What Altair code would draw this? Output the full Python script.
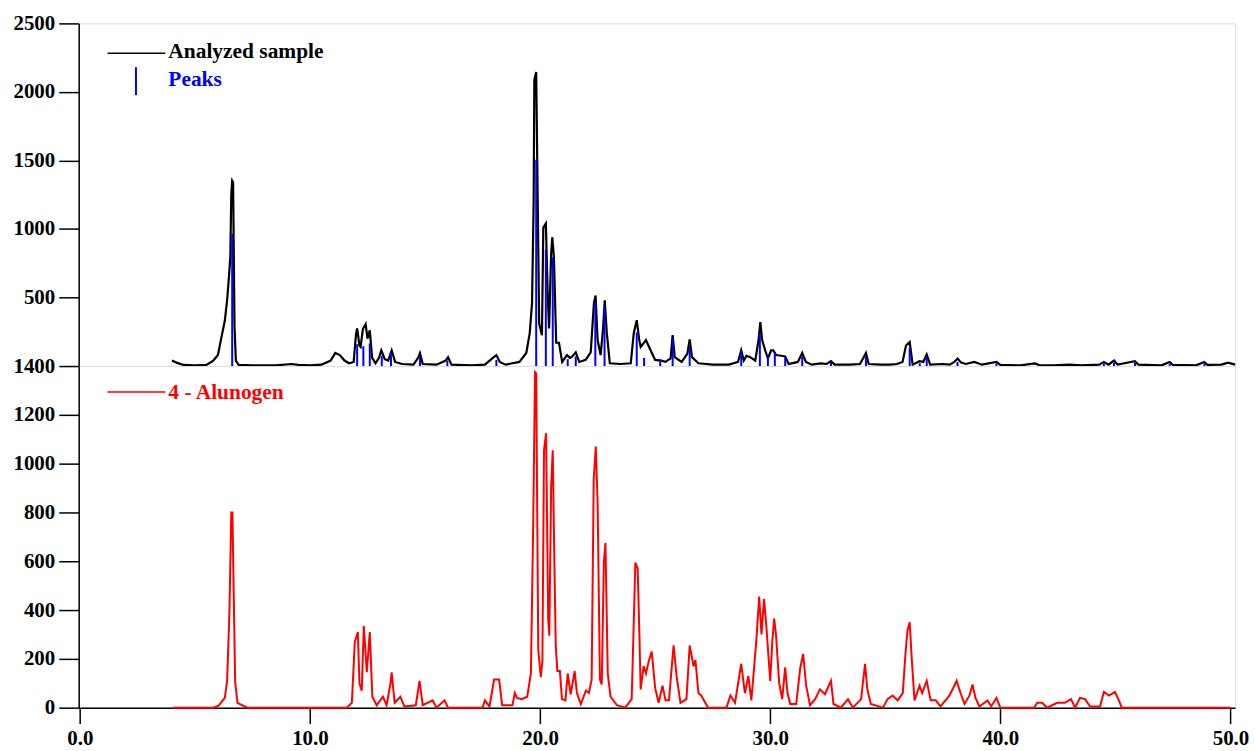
import altair as alt
import pandas as pd

# ---------------- data ----------------
sample_x = [4.0, 4.2, 4.5, 5.0, 5.5, 5.8, 6.0, 6.19, 6.3, 6.4, 6.48, 6.54, 6.58, 6.62, 6.66, 6.72, 6.78, 6.9,
            7.5, 8.5, 9.2, 9.5, 10.0, 10.5, 10.9, 11.1, 11.3, 11.5, 11.7, 11.9, 12.0, 12.05, 12.15, 12.2, 12.3,
            12.42, 12.5, 12.6, 12.7, 12.85, 13.0, 13.1, 13.25, 13.4, 13.55, 13.7, 14.0, 14.5, 14.7, 14.78, 14.9,
            15.5, 15.9, 16.0, 16.15, 17.0, 17.6, 17.95, 18.1, 18.25, 18.5, 18.8, 19.1, 19.4, 19.55, 19.65, 19.72,
            19.75, 19.83, 19.9, 19.96, 20.08, 20.14, 20.25, 20.33, 20.39, 20.48, 20.53, 20.6, 20.7, 20.82, 20.96,
            21.17, 21.3, 21.4, 21.55, 21.7, 21.98, 22.2, 22.34, 22.41, 22.5, 22.63, 22.73, 22.81, 22.9, 23.03,
            23.5, 23.94, 24.07, 24.2, 24.3, 24.37, 24.6, 24.8, 25.0, 25.24, 25.45, 25.67, 25.76, 25.85, 26.15,
            26.4, 26.5, 26.6, 26.88, 27.5, 28.2, 28.6, 28.74, 28.85, 28.97, 29.13, 29.35, 29.5, 29.57, 29.65,
            29.78, 29.9, 30.04, 30.13, 30.26, 30.48, 30.65, 30.8, 31.2, 31.39, 31.55, 31.8, 32.2, 32.45, 32.64,
            32.8, 33.46, 33.9, 34.05, 34.16, 34.28, 34.8, 35.2, 35.5, 35.75, 35.9, 36.06, 36.19, 36.49, 36.65,
            36.8, 36.95, 37.49, 37.8, 38.0, 38.14, 38.3, 38.5, 38.87, 39.2, 39.83, 40.0, 40.87, 41.5, 41.7, 42.3,
            43.0, 43.5, 44.3, 44.5, 44.7, 44.94, 45.1, 45.85, 46.0, 47.0, 47.36, 47.5, 48.5, 48.87, 49.0, 49.6,
            49.9, 50.2]
sample_y = [40, 25, 8, 5, 8, 40, 80, 240, 330, 480, 650, 800, 1250, 1352, 1340, 300, 40, 8,
            5, 5, 15, 8, 5, 10, 40, 95, 80, 40, 20, 30, 230, 275, 150, 140, 270,
            305, 200, 260, 60, 20, 60, 115, 50, 40, 115, 30, 15, 10, 60, 95, 15,
            10, 40, 65, 10, 5, 10, 60, 80, 30, 10, 20, 30, 95, 240, 460, 1200,
            2090, 2145, 1155, 310, 225, 1010, 1040, 530, 275, 820, 940, 795, 170, 170, 30,
            80, 60, 70, 100, 30, 45, 100, 460, 515, 190, 80, 260, 480, 240, 20,
            15, 20, 240, 335, 200, 140, 190, 115, 45, 40, 30, 55, 225, 65, 30,
            90, 195, 65, 20, 10, 10, 30, 115, 40, 75, 65, 40, 200, 320, 190,
            115, 55, 115, 115, 80, 75, 70, 15, 30, 95, 30, 10, 20, 15, 35,
            10, 10, 15, 60, 95, 15, 10, 10, 15, 30, 150, 175, 10, 35, 30,
            85, 10, 15, 10, 30, 55, 25, 15, 30, 10, 30, 8, 5, 20, 5, 5,
            10, 5, 10, 30, 10, 40, 10, 35, 10, 5, 30, 8, 5, 30, 8, 10,
            25, 10]

peak_x = [6.62, 12.05, 12.32, 12.6, 13.12, 13.52, 14.78, 15.97, 18.1, 19.83, 20.25, 20.55, 21.2, 21.55,
          22.4, 22.8, 24.2, 24.52, 25.22, 25.76, 26.5, 28.74, 29.55, 29.9, 30.2, 30.65, 31.39, 32.64,
          34.16, 36.06, 36.5, 36.8, 38.14, 39.83, 44.5, 44.94, 45.85, 47.36, 48.87]
peak_h = [966, 160, 145, 165, 75, 95, 70, 40, 45, 1505, 850, 795, 50, 70,
          465, 430, 245, 60, 50, 205, 130, 110, 240, 80, 95, 60, 70, 25,
          70, 130, 20, 65, 30, 20, 20, 25, 25, 15, 20]

ref_x = [4.03, 5.8, 6.03, 6.3, 6.4, 6.5, 6.58, 6.63, 6.7, 6.75, 6.85, 7.27, 11.6, 11.82, 11.95, 12.08, 12.15,
         12.25, 12.34, 12.47, 12.6, 12.71, 12.9, 13.17, 13.33, 13.5, 13.55, 13.68, 13.93, 14.1, 14.6, 14.76,
         14.9, 15.33, 15.5, 15.85, 16.0, 17.5, 17.6, 17.8, 18.0, 18.22, 18.35, 18.8, 18.9, 19.0, 19.2, 19.44,
         19.6, 19.7, 19.78, 19.83, 19.92, 20.03, 20.1, 20.17, 20.26, 20.35, 20.4, 20.48, 20.55, 20.61, 20.68,
         20.75, 20.86, 20.95, 21.1, 21.2, 21.33, 21.5, 21.6, 21.77, 21.99, 22.12, 22.24, 22.33, 22.42, 22.5,
         22.6, 22.68, 22.77, 22.84, 22.94, 23.06, 23.34, 23.7, 23.98, 24.14, 24.24, 24.32, 24.37, 24.5, 24.6,
         24.72, 24.85, 25.0, 25.15, 25.32, 25.45, 25.6, 25.8, 25.93, 26.1, 26.36, 26.5, 26.67, 26.75, 26.88,
         27.0, 27.3, 28.1, 28.27, 28.47, 28.74, 28.9, 29.05, 29.18, 29.4, 29.52, 29.62, 29.73, 29.83, 30.0,
         30.09, 30.17, 30.25, 30.39, 30.52, 30.65, 30.75, 30.87, 31.13, 31.3, 31.43, 31.56, 31.73, 31.95,
         32.16, 32.38, 32.64, 32.75, 33.07, 33.38, 33.59, 33.95, 34.12, 34.22, 34.37, 34.9, 35.1, 35.32,
         35.54, 35.76, 35.88, 35.97, 36.06, 36.15, 36.27, 36.49, 36.6, 36.8, 36.97, 37.19, 37.4, 37.79,
         38.0, 38.1, 38.27, 38.44, 38.66, 38.79, 38.92, 39.09, 39.44, 39.6, 39.83, 40.0, 41.47, 41.6, 41.82,
         42.03, 42.47, 42.8, 43.07, 43.25, 43.46, 43.68, 43.9, 44.33, 44.5, 44.72, 44.98, 45.15, 45.28, 50.0]
ref_y = [0, 0, 8, 40, 110, 390, 800, 800, 390, 105, 20, 0, 0, 20, 270, 310, 100,
         70, 335, 145, 310, 45, 10, 45, 10, 100, 145, 20, 45, 5, 10, 110,
         10, 30, 0, 30, 0, 0, 30, 5, 115, 115, 10, 10, 60, 40, 35, 45,
         140, 745, 1375, 1370, 240, 125, 190, 1055, 1125, 365, 295, 905, 1055, 660, 255,
         150, 150, 35, 30, 140, 55, 150, 60, 15, 70, 60, 115, 935, 1070, 840,
         115, 95, 595, 675, 140, 45, 10, 0, 35, 595, 570, 280, 75, 170, 140,
         190, 230, 80, 20, 90, 30, 30, 255, 130, 20, 35, 255, 170, 195, 60,
         50, 0, 0, 50, 20, 180, 60, 130, 30, 280, 455, 300, 445, 335, 110,
         270, 365, 300, 100, 35, 165, 60, 15, 15, 160, 220, 90, 10, 35,
         75, 55, 110, 15, 0, 35, 0, 35, 180, 75, 15, 0, 35, 50,
         30, 60, 225, 320, 350, 200, 30, 90, 60, 110, 30, 30, 5, 50,
         90, 110, 60, 15, 50, 95, 40, 5, 30, 5, 40, 0, 0, 20, 20,
         0, 20, 20, 35, 0, 40, 35, 5, 5, 65, 50, 65, 30, 0, 0]

top_ticks = [500, 1000, 1500, 2000, 2500]
bottom_ticks = [0, 200, 400, 600, 800, 1000, 1200, 1400]
x_ticks = [0, 10, 20, 30, 40, 50]
legend_top = ["Analyzed sample", "Peaks"]
legend_bottom = ["4 - Alunogen"]

df_sample = pd.DataFrame({"x": sample_x, "y": sample_y})
df_peaks = pd.DataFrame({"x": peak_x, "h": peak_h})
df_ref = pd.DataFrame({"x": ref_x, "y": ref_y})

FONT = "Liberation Serif"
W = 1161
x_scale = alt.Scale(domain=[-0.05, 50.2], nice=False, zero=False)

yaxis_common = dict(title=None, format="d", labelFont=FONT, labelFontSize=21, labelFontWeight="bold",
                    labelColor="black", tickSize=20, tickWidth=1.5, tickColor="black",
                    domainColor="black", domainWidth=1.5, labelPadding=4, grid=False)

# ---------------- top panel ----------------
sample_line = alt.Chart(df_sample).mark_line(color="black", strokeWidth=2.2).encode(
    x=alt.X("x:Q", scale=x_scale, axis=None),
    y=alt.Y("y:Q", scale=alt.Scale(domain=[0, 2500], nice=False),
            axis=alt.Axis(values=top_ticks, **yaxis_common)),
)
peak_rules = alt.Chart(df_peaks).mark_rule(color="blue", strokeWidth=2).encode(
    x=alt.X("x:Q", scale=x_scale, axis=None),
    y=alt.Y("h:Q"),
    y2=alt.datum(0),
)
leg1_line = alt.Chart(pd.DataFrame({"t": [legend_top[0]]})).mark_rule(color="black", strokeWidth=1.5).encode(
    x=alt.value(29), x2=alt.value(87), y=alt.value(30))
leg1_text = alt.Chart(pd.DataFrame({"t": [legend_top[0]]})).mark_text(
    align="left", baseline="alphabetic", font=FONT, fontSize=21.5, fontWeight="bold", color="black").encode(
    x=alt.value(90), y=alt.value(35), text="t:N")
leg2_tick = alt.Chart(pd.DataFrame({"t": [legend_top[1]]})).mark_rule(color="blue", strokeWidth=2).encode(
    x=alt.value(57.5), y=alt.value(44), y2=alt.value(72))
leg2_text = alt.Chart(pd.DataFrame({"t": [legend_top[1]]})).mark_text(
    align="left", baseline="alphabetic", font=FONT, fontSize=21.5, fontWeight="bold", color="blue").encode(
    x=alt.value(90), y=alt.value(63), text="t:N")

top = alt.layer(sample_line, peak_rules, leg1_line, leg1_text, leg2_tick, leg2_text).properties(
    width=W, height=344)

# ---------------- bottom panel ----------------
ref_line = alt.Chart(df_ref).mark_line(color="red", strokeWidth=2).encode(
    x=alt.X("x:Q", scale=x_scale,
            axis=alt.Axis(values=x_ticks, format=".1f", title=None, labelFont=FONT, labelFontSize=21,
                          labelFontWeight="bold", labelColor="black", tickSize=16, tickWidth=1.5,
                          tickColor="black", domainColor="black", domainWidth=1.5, labelPadding=4,
                          grid=False)),
    y=alt.Y("y:Q", scale=alt.Scale(domain=[0, 1400], nice=False),
            axis=alt.Axis(values=bottom_ticks, **yaxis_common)),
)
leg3_line = alt.Chart(pd.DataFrame({"t": legend_bottom})).mark_rule(color="red", strokeWidth=1.5).encode(
    x=alt.value(29), x2=alt.value(87), y=alt.value(26))
leg3_text = alt.Chart(pd.DataFrame({"t": legend_bottom})).mark_text(
    align="left", baseline="alphabetic", font=FONT, fontSize=21.5, fontWeight="bold", color="red").encode(
    x=alt.value(90), y=alt.value(33), text="t:N")

bottom = alt.layer(ref_line, leg3_line, leg3_text).properties(width=W, height=343)

chart = alt.vconcat(top, bottom, spacing=0, bounds="flush").properties(
    padding={"left": 12, "top": 10, "right": 5, "bottom": 0}
).configure_view(stroke="black", strokeWidth=1.5).configure(background="white")

chart.save("out.html", embed_options={"renderer": "svg", "actions": False})
